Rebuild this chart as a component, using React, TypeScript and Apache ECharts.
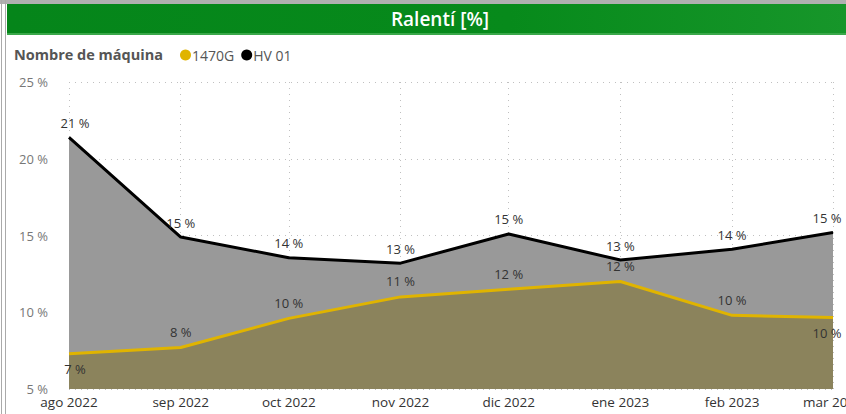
import React, { useEffect, useRef } from "react";
import * as echarts from "echarts";

const months: [number, number][] = [
  [2022, 7], [2022, 8], [2022, 9], [2022, 10], [2022, 11], [2023, 0], [2023, 1], [2023, 2],
];
const monthNames = ["ene", "feb", "mar", "abr", "may", "jun", "jul", "ago", "sep", "oct", "nov", "dic"];
const hv01 = [21.4, 14.9, 13.55, 13.2, 15.1, 13.4, 14.1, 15.2];
const g1470 = [7.3, 7.7, 9.6, 11.0, 11.5, 12.0, 9.8, 9.65];
const g1470LabelPos = ["bottom", "top", "top", "top", "top", "top", "top", "bottom"];
const labelShift = [6, 0, 0, 0, 0, 0, 0, -6];
const yTicks = { min: 5, max: 25, interval: 5 };

export default function App() {
  const ref = useRef<HTMLDivElement>(null);
  useEffect(() => {
    document.body.style.margin = "0";
    if (!ref.current) return;
    const chart = echarts.init(ref.current, undefined, { renderer: "svg" });
    const times = months.map(([y, m]) => new Date(y, m, 1).getTime());
    const font = "'Open Sans', 'Noto Sans', sans-serif";
    const fmt = (p: any) => Math.round(p.value[1]) + " %";
    chart.setOption({
      animation: false,
      textStyle: { fontFamily: font },
      grid: { left: 69, right: 13, top: 82, bottom: 25, containLabel: false, outerBoundsMode: "none" },
      legend: {
        left: 175,
        top: 43,
        itemWidth: 11,
        itemHeight: 11,
        itemGap: 7,
        icon: "circle",
        data: ["1470G", "HV 01"],
        textStyle: { color: "#555", fontSize: 14, fontFamily: font, padding: [0, 0, 0, -4] },
      },
      graphic: [
        { type: "rect", shape: { x: 0, y: 0, width: 846, height: 4 }, style: { fill: "#b0b0b0" } },
        {
          type: "rect",
          shape: { x: 7, y: 4, width: 839, height: 30 },
          style: {
            fill: new echarts.graphic.LinearGradient(0, 0, 1, 0, [
              { offset: 0, color: "#05851a" },
              { offset: 0.6, color: "#078a1b" },
              { offset: 1, color: "#17962a" },
            ]),
          },
        },
        { type: "rect", shape: { x: 7, y: 33, width: 839, height: 2 }, style: { fill: "#3aa84a" } },
        { type: "line", shape: { x1: 1.5, y1: 0, x2: 1.5, y2: 414 }, style: { stroke: "#aaa", lineWidth: 1 } },
        { type: "line", shape: { x1: 5.5, y1: 0, x2: 5.5, y2: 414 }, style: { stroke: "#aaa", lineWidth: 1 } },
        {
          type: "text",
          x: 440,
          y: 19,
          style: {
            text: "Ralentí [%]",
            fill: "#fff",
            fontSize: 19,
            fontWeight: 600,
            fontFamily: font,
            align: "center",
            verticalAlign: "middle",
          },
        },
        {
          type: "text",
          x: 14,
          y: 54,
          style: {
            text: "Nombre de máquina",
            fill: "#555",
            fontSize: 14.5,
            fontWeight: "bold",
            fontFamily: font,
            verticalAlign: "middle",
          },
        },
      ],
      xAxis: {
        type: "time",
        min: times[0],
        max: times[times.length - 1],
        splitNumber: 7,
        minInterval: 28 * 86400000,
        maxInterval: 31 * 86400000,
        axisLine: { show: false },
        axisTick: { show: false },
        axisLabel: {
          color: "#333",
          fontSize: 13.5,
          margin: 6,
          hideOverlap: false,
          showMinLabel: true,
          showMaxLabel: true,
          formatter: (v: number) => {
            const d = new Date(v);
            return monthNames[d.getMonth()] + " " + d.getFullYear();
          },
        },
        splitLine: { show: true, lineStyle: { color: "#c0c0c0", type: [1, 5], width: 1 } },
      },
      yAxis: {
        type: "value",
        min: yTicks.min,
        max: yTicks.max,
        interval: yTicks.interval,
        axisLine: { show: false },
        axisTick: { show: false },
        axisLabel: { color: "#777", fontSize: 13, margin: 21, formatter: "{value} %" },
        splitLine: { show: true, lineStyle: { color: "#c0c0c0", type: [1, 5], width: 1 } },
      },
      series: [
        {
          name: "HV 01",
          type: "line",
          data: times.map((t, i) => ({
            value: [t, hv01[i]],
            label: { offset: [labelShift[i], 0] },
          })),
          showSymbol: true,
          symbol: "circle",
          symbolSize: 0,
          color: "#000",
          lineStyle: { color: "#000", width: 3 },
          areaStyle: { color: "#999999", opacity: 1, origin: "start" },
          label: { show: true, position: "top", distance: 8, color: "#333", fontSize: 13, formatter: fmt },
          z: 2,
        },
        {
          name: "1470G",
          type: "line",
          data: times.map((t, i) => ({
            value: [t, g1470[i]],
            label: { position: g1470LabelPos[i], offset: [labelShift[i], 0] },
          })),
          showSymbol: true,
          symbol: "circle",
          symbolSize: 0,
          color: "#e0b400",
          lineStyle: { color: "#e0b400", width: 3 },
          areaStyle: { color: "#8b835c", opacity: 1, origin: "start" },
          label: { show: true, position: "top", distance: 9, color: "#333", fontSize: 13, formatter: fmt },
          z: 3,
        },
      ],
    });
    return () => chart.dispose();
  }, []);
  return <div ref={ref} style={{ width: 846, height: 414 }} />;
}
